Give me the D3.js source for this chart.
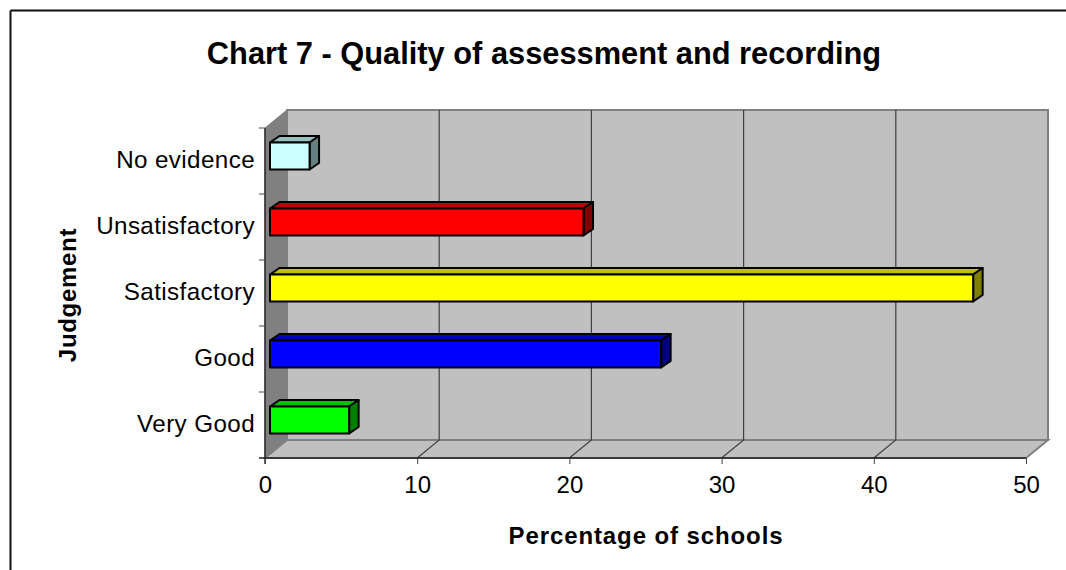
<!DOCTYPE html>
<html><head><meta charset="utf-8">
<script src="https://cdn.jsdelivr.net/npm/d3@7/dist/d3.min.js"></script>
<style>html,body{margin:0;background:#fff}svg{display:block}text{font-family:"Liberation Sans",Arial,sans-serif;fill:#000}</style>
</head><body><svg id="c" width="1066" height="570"></svg>
<script>
const categories = ["No evidence","Unsatisfactory","Satisfactory","Good","Very Good"];
const values = [2.6,20.6,46.2,25.7,5.2];
const frontColors = ["#ccffff","#ff0000","#ffff00","#0000ff","#00ff00"];
const topColors = ["#99c0c0","#c00000","#c0c000","#0000c0","#00c000"];
const sideColors = ["#668080","#800000","#808000","#000080","#008000"];
const xTicks = [0,10,20,30,40,50];
const titleText = "Chart 7 - Quality of assessment and recording";
const xTitle = "Percentage of schools";
const yTitle = "Judgement";

const svg = d3.select("#c");
const x = d3.scaleLinear().domain([0,50]).range([265,1026]);
const y = d3.scaleBand().domain(categories).range([128,458]);
const floorDx = 22, floorDy = -18, barDx = 9.5, barDy = -6.5, barInset = 5;
const line = d3.line();

svg.append("path").attr("d","M10.5,10.5H1070M10.5,10.5V580").attr("fill","none").attr("stroke","#111").attr("stroke-width",2);

const L=x(0),R=x(50),T=y.range()[0],B=y.range()[1];
svg.append("path").attr("d",line([[L+floorDx,T+floorDy],[R+floorDx,T+floorDy],[R+floorDx,B+floorDy],[L+floorDx,B+floorDy]])+"Z")
  .attr("fill","#c0c0c0").attr("stroke","#808080").attr("stroke-width",2);
svg.append("path").attr("d",line([[L,T],[L+floorDx,T+floorDy],[L+floorDx,B+floorDy],[L,B]])+"Z")
  .attr("fill","#808080").attr("stroke","#808080").attr("stroke-width",1);
svg.append("path").attr("d",line([[L,B],[L+floorDx,B+floorDy],[R+floorDx,B+floorDy],[R,B]])+"Z")
  .attr("fill","#c0c0c0").attr("stroke","#808080").attr("stroke-width",2);

const gt = xTicks.slice(1,-1);
svg.append("g").selectAll("path").data(gt).join("path")
  .attr("d",d=>line([[x(d),B],[x(d)+floorDx,B+floorDy],[x(d)+floorDx,T+floorDy]]))
  .attr("fill","none").attr("stroke","#404040").attr("stroke-width",1.2);

svg.append("path").attr("d",line([[L,T],[L,B+6]])).attr("stroke","#222").attr("fill","none").attr("stroke-width",1.4);
svg.append("path").attr("d",line([[L-6,B],[R,B]])).attr("stroke","#222").attr("fill","none").attr("stroke-width",1.4);
const xAxis = d3.axisBottom(x).tickValues(xTicks).tickSize(6).tickSizeOuter(0).tickPadding(12);
const gx = svg.append("g").attr("transform",`translate(0,${B})`).call(xAxis);
gx.select(".domain").remove();
gx.selectAll("line").attr("stroke","#444");
gx.selectAll("text").attr("font-size",24).style("font-family",'"Liberation Sans",Arial,sans-serif').attr("fill","#000");
const edges = categories.map(c=>y(c));
svg.append("g").selectAll("line").data(edges).join("line")
  .attr("x1",L-6).attr("x2",L).attr("y1",d=>d).attr("y2",d=>d).attr("stroke","#444");

const g = svg.append("g").selectAll("g").data(categories).join("g");
const fx0 = L+barInset;
const rows = categories.map((c,i)=>({c,i,x1:fx0+(x(values[i])-x(0)),y0:y(c)+14.5,y1:y(c)+41.5}));
g.each(function(c,i){
  const r=rows[i], s=d3.select(this);
  const st=p=>p.attr("stroke","#000").attr("stroke-width",2).attr("stroke-linejoin","round");
  st(s.append("path").attr("d",line([[fx0,r.y0],[fx0+barDx,r.y0+barDy],[r.x1+barDx,r.y0+barDy],[r.x1,r.y0]])+"Z").attr("fill",topColors[i]));
  st(s.append("path").attr("d",line([[r.x1,r.y0],[r.x1+barDx,r.y0+barDy],[r.x1+barDx,r.y1+barDy],[r.x1,r.y1]])+"Z").attr("fill",sideColors[i]));
  st(s.append("rect").attr("x",fx0).attr("y",r.y0).attr("width",r.x1-fx0).attr("height",r.y1-r.y0).attr("fill",frontColors[i]));
});

svg.append("g").selectAll("text").data(categories).join("text")
  .attr("x",255).attr("y",c=>y(c)+y.bandwidth()/2+7).attr("text-anchor","end").attr("font-size",24.2).attr("letter-spacing",0.4).text(c=>c);
svg.append("text").attr("x",544).attr("y",64).attr("text-anchor","middle").attr("font-size",30.8).attr("font-weight","bold").text(titleText);
svg.append("text").attr("x",646).attr("y",544).attr("text-anchor","middle").attr("font-size",24).attr("font-weight","bold").attr("letter-spacing",0.9).text(xTitle);
svg.append("text").attr("transform","translate(76,295) rotate(-90)").attr("text-anchor","middle").attr("font-size",24).attr("font-weight","bold").attr("letter-spacing",0.7).text(yTitle);
</script></body></html>
